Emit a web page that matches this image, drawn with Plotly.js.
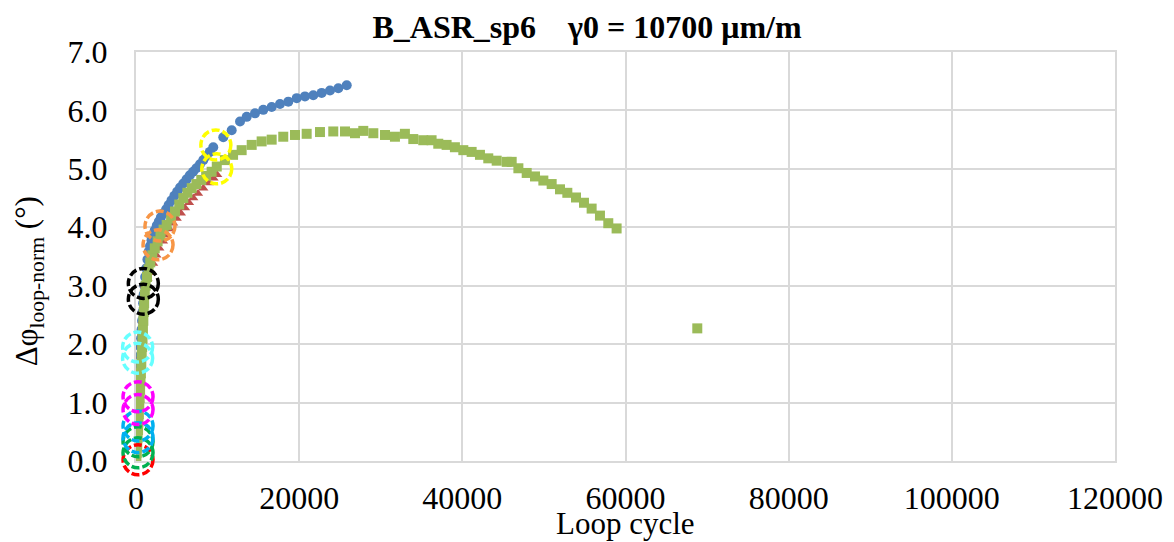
<!DOCTYPE html>
<html>
<head>
<meta charset="utf-8">
<script src="https://cdn.plot.ly/plotly-3.0.1.min.js"></script>
<style>html,body{margin:0;padding:0;background:#fff;}#chart{width:1174px;height:542px;}</style>
</head>
<body>
<div id="chart"></div>
<script>
// ---- data ----
const blueX = [0,30,60,100,140,180,220,260,300,350,400,450,500,560,620,680,740,800,870,940,1020,1120,1250,1400,1550,1715,1900,2100,2300,2550,2800,3050,3350,3700,4000,4350,4700,5050,5400,5800,6200,6600,7000,7400,7840,8250,8650,9050,9470,10700,11730,12750,13570,14590,15600,16630,17650,18670,19700,20710,21730,22760,23780,24800,25830];
const blueY = [0.00,0.15,0.30,0.45,0.60,0.75,0.90,1.05,1.20,1.35,1.50,1.65,1.80,1.95,2.10,2.25,2.40,2.55,2.70,2.85,3.00,3.15,3.30,3.45,3.58,3.68,3.78,3.87,3.95,4.03,4.10,4.17,4.24,4.31,4.38,4.46,4.54,4.61,4.68,4.75,4.82,4.89,4.95,5.01,5.08,5.15,5.22,5.29,5.37,5.54,5.66,5.81,5.89,5.95,6.01,6.06,6.11,6.15,6.21,6.24,6.26,6.30,6.34,6.38,6.43];

const redX = [100,150,200,260,320,380,440,500,560,620,690,760,830,900,980,1100,1400,1715,2100,2500,2860,3300,3700,4100,4550,4990,5500,6010,6500,7020,7600,8250,8900,9500,9950];
const redY = [0.00,0.20,0.40,0.60,0.80,1.00,1.20,1.40,1.60,1.80,2.00,2.20,2.40,2.60,2.80,3.00,3.12,3.22,3.38,3.52,3.64,3.76,3.87,3.97,4.07,4.15,4.24,4.33,4.42,4.50,4.58,4.67,4.76,4.84,4.90];

const greenX = [50,100,150,200,250,300,350,400,450,500,550,600,650,700,750,800,850,900,950,1000,1080,1180,1350,1550,1750,2000,2300,2650,3000,3380,3760,4300,4780,5300,5800,6300,6830,7400,8000,8600,9270,9900,10900,11900,12950,14180,15400,16630,18050,19490,20920,22550,24180,25620,26840,27860,29090,30520,31740,32960,33990,35210,36230,37050,38070,39090,40120,41140,42160,43180,44210,45440,46050,46870,47890,48910,49930,50950,51970,52870,53930,54910,55850,56870,57890,58910,68800];
const greenY = [0.02,0.14,0.27,0.40,0.53,0.66,0.80,0.94,1.08,1.22,1.36,1.50,1.65,1.80,1.95,2.10,2.25,2.40,2.55,2.70,2.85,3.00,3.15,3.28,3.40,3.52,3.64,3.76,3.86,3.96,4.04,4.15,4.27,4.39,4.50,4.59,4.67,4.74,4.81,4.88,4.95,5.04,5.15,5.24,5.32,5.41,5.47,5.50,5.55,5.58,5.60,5.63,5.64,5.64,5.61,5.65,5.61,5.58,5.55,5.60,5.51,5.49,5.49,5.43,5.41,5.37,5.32,5.29,5.24,5.18,5.14,5.12,5.12,5.01,4.93,4.87,4.80,4.74,4.65,4.59,4.51,4.42,4.32,4.20,4.07,3.98,2.27];

// highlighted (dashed circle) points
const circX = [250,250,250,250,250,250,250,200,200,900,900,2700,2940,9790,9900];
const circY = [0.02,0.14,0.33,0.40,0.60,0.88,1.10,1.76,1.95,2.77,3.04,3.70,4.02,5.41,5.00];
const circColor = ['#FF0000','#00B050','#00B050','#00B0F0','#00B0F0','#FF00FF','#FF00FF','#66FFFF','#66FFFF','#000000','#000000','#F79646','#F79646','#FFFF00','#FFFF00'];

const xRange = [0,120000];
const yRange = [0,7];
const xTickVals = [0,20000,40000,60000,80000,100000,120000];
const yTickVals = [0,1,2,3,4,5,6,7];

// ---- chart ----
const FONT = 'Liberation Serif, Times New Roman, serif';
const traces = [
  {x: blueX, y: blueY, type:'scatter', mode:'markers', name:'blue',
   marker:{symbol:'circle', size:10, color:'#4F81BD'}},
  {x: redX, y: redY, type:'scatter', mode:'markers', name:'red',
   marker:{symbol:'triangle-up', size:9, color:'#C0504D'}},
  {x: greenX, y: greenY, type:'scatter', mode:'markers', name:'green',
   marker:{symbol:'square', size:10, color:'#9BBB59'}}
];

// dashed rings (not clipped to the plot area, as in the original)
const shapes = circX.map((cx, i) => ({
  type:'circle', xref:'paper', yref:'paper',
  xsizemode:'pixel', ysizemode:'pixel',
  xanchor: (cx - xRange[0]) / (xRange[1] - xRange[0]),
  yanchor: (circY[i] - yRange[0]) / (yRange[1] - yRange[0]),
  x0:-15, x1:15, y0:-15, y1:15,
  line:{color: circColor[i], width:3.5, dash:'8px,3px'},
  layer:'above'
}));

const layout = {
  width:1174, height:542,
  margin:{l:136, r:59, t:52, b:81, pad:0},
  paper_bgcolor:'#ffffff', plot_bgcolor:'#ffffff',
  showlegend:false,
  font:{family:FONT, color:'#000000', size:31},
  title:{text:'<b>B_ASR_sp6\u00a0\u00a0\u00a0\u00a0γ0 = 10700 μm/m</b>', x:0.5, xanchor:'center',
         y:0.95, yanchor:'middle', yref:'container',
         font:{family:FONT, size:32, color:'#000000'}},
  xaxis:{range:xRange, tickvals:xTickVals, tickformat:'d',
         showgrid:true, gridcolor:'#D9D9D9', gridwidth:2,
         zeroline:false, showline:true, linecolor:'#D9D9D9', linewidth:2, mirror:true,
         ticks:'outside', ticklen:8, tickcolor:'rgba(0,0,0,0)',
         tickfont:{family:FONT, size:32, color:'#000'}},
  yaxis:{range:yRange, tickvals:yTickVals, tickformat:'.1f',
         showgrid:true, gridcolor:'#D9D9D9', gridwidth:2,
         zeroline:false, showline:true, linecolor:'#D9D9D9', linewidth:2, mirror:true,
         ticks:'outside', ticklen:20, tickcolor:'rgba(0,0,0,0)',
         tickfont:{family:FONT, size:32, color:'#000'}},
  shapes: shapes,
  annotations:[
    {text:'Δφ<sub>loop-norm</sub> (°)', xref:'paper', yref:'paper',
     x:-0.109, y:0.44, xanchor:'center', yanchor:'middle', textangle:-90, showarrow:false,
     font:{family:FONT, size:31, color:'#000'}},
    {text:'Loop cycle', xref:'paper', yref:'paper',
     x:0.5, y:-0.152, xanchor:'center', yanchor:'middle', showarrow:false,
     font:{family:FONT, size:31, color:'#000'}}
  ]
};

Plotly.newPlot('chart', traces, layout, {displayModeBar:false, staticPlot:true});
</script>
</body>
</html>
